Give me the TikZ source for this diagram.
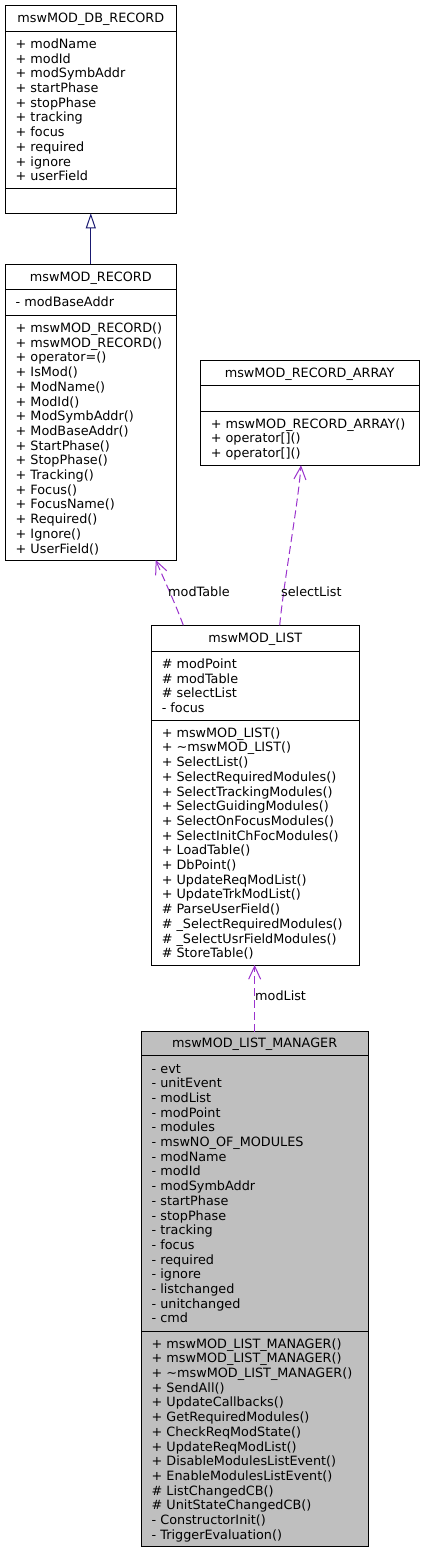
\documentclass[tikz,border=0pt]{standalone}
\usepackage{fontspec}
\setmainfont{DejaVu Sans}
\usetikzlibrary{arrows.meta,calc}
\definecolor{usecol}{HTML}{9A32CD}
\definecolor{inhcol}{HTML}{191970}
\definecolor{mgrfill}{HTML}{BFBFBF}
\newcommand\fs{\fontsize{12.8}{14.7}\selectfont}
\newcommand\st{\rule{0pt}{11pt}}
\tikzset{
  classbox/.style={draw=black, line width=1pt, fill=white, anchor=north west, inner sep=0pt, outer sep=0pt},
  mgrbox/.style={classbox, fill=mgrfill},
  sep/.style={draw=black, line width=1pt},
  ctitle/.style={anchor=base, inner sep=0pt, font=\fs},
  memb/.style={anchor=north west, inner sep=0pt, align=left, font=\fs},
  lbl/.style={anchor=base west, inner sep=0pt, font=\fs},
  use/.style={draw=usecol, line width=1pt, dash pattern=on 8pt off 4pt, -{Straight Barb[length=13pt,width=12pt]}},
  inh/.style={draw=inhcol, line width=1pt, -{Triangle[open,length=15pt,width=10pt,fill=white]}},
}
\begin{document}
\begin{tikzpicture}[x=1pt,y=-1pt]
\useasboundingbox[fill=white] (0,0) rectangle (424,1552);

% mswMOD_DB_RECORD
\node[classbox, minimum width=171pt, minimum height=208pt] (dbrec) at (5.3,5.3) {};
\draw[sep] (5.3,31.7) -- (176.3,31.7);
\draw[sep] (5.3,188.3) -- (176.3,188.3);
\node[ctitle] (dbrect) at (90.8,22.9) {mswMOD\_DB\_RECORD};
\node[memb] (dbreca) at (15.5,37.25) {\st+ modName\\+ modId\\+ modSymbAddr\\+ startPhase\\+ stopPhase\\+ tracking\\+ focus\\+ required\\+ ignore\\+ userField};

% mswMOD_RECORD
\node[classbox, minimum width=171pt, minimum height=295.7pt] (rec) at (5.3,264.3) {};
\draw[sep] (5.3,289.3) -- (176.3,289.3);
\draw[sep] (5.3,315.3) -- (176.3,315.3);
\node[ctitle] (rect) at (90.8,281.2) {mswMOD\_RECORD};
\node[memb] (reca) at (15.5,295.7) {\st- modBaseAddr};
\node[memb] (recm) at (15.5,321.3) {\st+ mswMOD\_RECORD()\\+ mswMOD\_RECORD()\\+ operator=()\\+ IsMod()\\+ ModName()\\+ ModId()\\+ ModSymbAddr()\\+ ModBaseAddr()\\+ StartPhase()\\+ StopPhase()\\+ Tracking()\\+ Focus()\\+ FocusName()\\+ Required()\\+ Ignore()\\+ UserField()};

% mswMOD_RECORD_ARRAY
\node[classbox, minimum width=218.7pt, minimum height=105pt] (arr) at (200.3,360.3) {};
\draw[sep] (200.3,385) -- (419,385);
\draw[sep] (200.3,411.3) -- (419,411.3);
\node[ctitle] (arrt) at (309.65,377) {mswMOD\_RECORD\_ARRAY};
\node[memb] (arrm) at (210.6,417) {\st+ mswMOD\_RECORD\_ARRAY()\\+ operator[]()\\+ operator[]()};

% mswMOD_LIST
\node[classbox, minimum width=208pt, minimum height=339.7pt] (list) at (151.3,625.3) {};
\draw[sep] (151.3,651.3) -- (359.3,651.3);
\draw[sep] (151.3,720.3) -- (359.3,720.3);
\node[ctitle] (listt) at (255.3,642.7) {mswMOD\_LIST};
\node[memb] (lista) at (161.6,657.1) {\st\# modPoint\\\# modTable\\\# selectList\\- focus};
\node[memb] (listm) at (161.6,726) {\st+ mswMOD\_LIST()\\+ \textasciitilde mswMOD\_LIST()\\+ SelectList()\\+ SelectRequiredModules()\\+ SelectTrackingModules()\\+ SelectGuidingModules()\\+ SelectOnFocusModules()\\+ SelectInitChFocModules()\\+ LoadTable()\\+ DbPoint()\\+ UpdateReqModList()\\+ UpdateTrkModList()\\\# ParseUserField()\\\# \_SelectRequiredModules()\\\# \_SelectUsrFieldModules()\\\# StoreTable()};

% mswMOD_LIST_MANAGER
\node[mgrbox, minimum width=227.3pt, minimum height=514.3pt] (mgr) at (141,1031.7) {};
\draw[sep] (141,1055) -- (368.3,1055);
\draw[sep] (141,1331.7) -- (368.3,1331.7);
\node[ctitle] (mgrt) at (254.65,1047.7) {mswMOD\_LIST\_MANAGER};
\node[memb] (mgra) at (151.5,1061.8) {\st- evt\\- unitEvent\\- modList\\- modPoint\\- modules\\- mswNO\_OF\_MODULES\\- modName\\- modId\\- modSymbAddr\\- startPhase\\- stopPhase\\- tracking\\- focus\\- required\\- ignore\\- listchanged\\- unitchanged\\- cmd};
\node[memb] (mgrm) at (151.5,1336.9) {\st+ mswMOD\_LIST\_MANAGER()\\+ mswMOD\_LIST\_MANAGER()\\+ \textasciitilde mswMOD\_LIST\_MANAGER()\\+ SendAll()\\+ UpdateCallbacks()\\+ GetRequiredModules()\\+ CheckReqModState()\\+ UpdateReqModList()\\+ DisableModulesListEvent()\\+ EnableModulesListEvent()\\\# ListChangedCB()\\\# UnitStateChangedCB()\\- ConstructorInit()\\- TriggerEvaluation()};

% connectors
\draw[inh] (rec.north) -- (dbrec.south);
\draw[use] ($(list.north west)+(32,0)$) .. controls (176,605) and (162,575) .. ($(rec.south west)+(150.4,0)$);
\draw[use] ($(list.north west)+(128.4,0)$) .. controls (284,580) and (298,505) .. ($(arr.south west)+(100.7,0)$);
\draw[use] (mgr.north) -- (mgr.north |- list.south);

\node[lbl] (lmodtable) at (168,596) {modTable};
\node[lbl] (lselect) at (281,596) {selectList};
\node[lbl] (lmodlist) at (255,1000.5) {modList};
\end{tikzpicture}
\end{document}
